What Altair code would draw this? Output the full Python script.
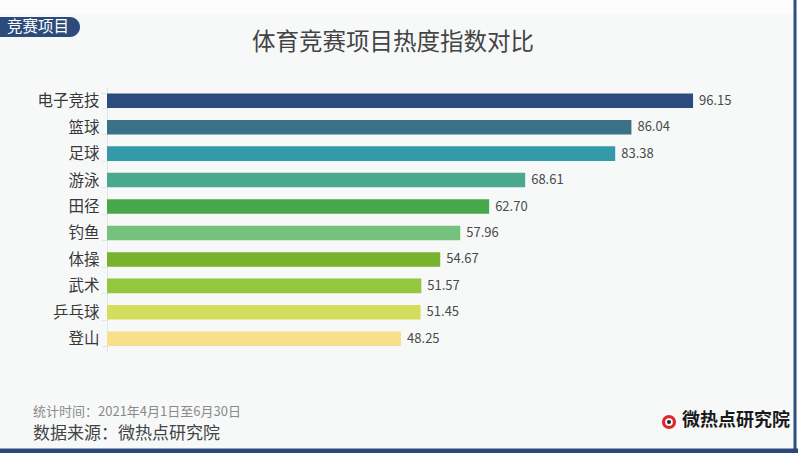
import altair as alt
import pandas as pd

# Sports heat index, 2021-04-01 to 2021-06-30
sports = ["电子竞技", "篮球", "足球", "游泳", "田径", "钓鱼", "体操", "武术", "乒乓球", "登山"]
heat = [96.15, 86.04, 83.38, 68.61, 62.70, 57.96, 54.67, 51.57, 51.45, 48.25]
bar_colors = ["#2c4b7f", "#3a7189", "#3499a9", "#4aa98c", "#47a84b",
              "#76c17d", "#79b22d", "#93c73f", "#d3de5d", "#f8df8c"]

title_text = "体育竞赛项目热度指数对比"
tab_text = "竞赛项目"
period_text = "统计时间：2021年4月1日至6月30日"
source_text = "数据来源：微热点研究院"
logo_text = "微热点研究院"

FONT = "Noto Sans CJK SC"
W, H = 798, 453

df = pd.DataFrame({"sport": sports, "heat": heat, "color": bar_colors})
one = pd.DataFrame({"k": [0]})

x_scale = alt.Scale(domain=[0, 100], range=[107, 716.5], zero=True, nice=False)
y_scale = alt.Scale(domain=sports, range=[87.5, 352], paddingInner=0.45, paddingOuter=0.225)

base = alt.Chart(df)

bars = base.mark_bar().encode(
    x=alt.X("heat:Q", scale=x_scale, axis=None),
    y=alt.Y("sport:N", scale=y_scale, sort=sports,
            axis=alt.Axis(title=None, orient="left", offset=-107,
                          domainColor="#e4e6e6", tickColor="#e4e6e6",
                          tickBand="extent", tickSize=6, labelPadding=2,
                          labelFont=FONT, labelFontSize=15.5, labelColor="#383838")),
    color=alt.Color("color:N", scale=None),
)

values = base.mark_text(align="left", baseline="middle", dx=6, font=FONT,
                        fontSize=13, color="#4a4a4a").encode(
    x=alt.X("heat:Q", scale=x_scale),
    y=alt.Y("sport:N", scale=y_scale, sort=sports),
    text=alt.Text("heat:Q", format=".2f"),
)

deco = alt.Chart(one)

top_strip = deco.mark_rect(color="#fdfdfd").encode(
    x=alt.value(0), x2=alt.value(W), y=alt.value(0), y2=alt.value(14))

tab = deco.mark_rect(color="#2c4a7b", cornerRadius=10).encode(
    x=alt.value(-12), x2=alt.value(80), y=alt.value(17), y2=alt.value(37))
tab_label = deco.mark_text(font=FONT, fontSize=15.5, color="white", align="center",
                           baseline="middle").encode(
    x=alt.value(38), y=alt.value(27), text=alt.value(tab_text))

title = deco.mark_text(font=FONT, fontSize=23.5, color="#444444", align="center",
                       baseline="middle").encode(
    x=alt.value(393), y=alt.value(43), text=alt.value(title_text))

period = deco.mark_text(font=FONT, fontSize=13, color="#8a8a8a", align="left",
                        baseline="middle").encode(
    x=alt.value(33), y=alt.value(412), text=alt.value(period_text))
source = deco.mark_text(font=FONT, fontSize=17, color="#444444", align="left",
                        baseline="middle").encode(
    x=alt.value(33), y=alt.value(434), text=alt.value(source_text))

logo = deco.mark_text(font=FONT, fontSize=18, fontWeight="bold", color="#1a1a1a",
                      align="left", baseline="middle").encode(
    x=alt.value(682), y=alt.value(421), text=alt.value(logo_text))
logo_eye = deco.mark_point(filled=True, color="#e0262b", size=200, opacity=1).encode(
    x=alt.value(669), y=alt.value(422))
logo_white = deco.mark_point(filled=True, color="white", size=60, opacity=1).encode(
    x=alt.value(669), y=alt.value(422))
logo_pupil = deco.mark_point(filled=True, color="#222222", size=16, opacity=1).encode(
    x=alt.value(669), y=alt.value(422))

right_border = deco.mark_rule(color="#2e4e82", strokeWidth=3).encode(
    x=alt.value(795), y=alt.value(0), y2=alt.value(H))
bottom_border = deco.mark_rule(color="#2a4878", strokeWidth=5).encode(
    y=alt.value(451), x=alt.value(0), x2=alt.value(W))

chart = alt.layer(
    top_strip, tab, tab_label, title, bars, values, period, source,
    logo_eye, logo_white, logo_pupil, logo, right_border, bottom_border,
).properties(
    width=W, height=H, background="#f7f9f9", padding=0,
    autosize=alt.AutoSizeParams(type="none"),
).configure_view(stroke=None)

chart.save("out.html", embed_options={"renderer": "svg", "actions": False})
